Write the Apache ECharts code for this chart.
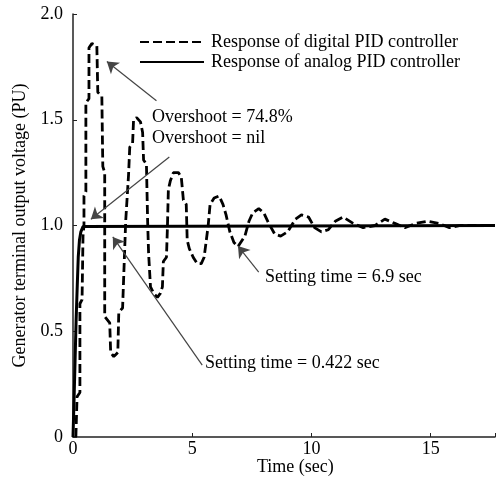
<!DOCTYPE html>
<html>
<head>
<meta charset="utf-8">
<script src="https://cdn.jsdelivr.net/npm/echarts@6/dist/echarts.min.js"></script>
<style>html,body{margin:0;padding:0;background:#fff}#c{width:498px;height:485px}</style>
</head>
<body>
<div id="c"></div>
<script>
// ---- data ----
const seriesNames = ['Response of digital PID controller', 'Response of analog PID controller'];
const digitalT = [0.12,0.17,0.29,0.29,0.38,0.42,0.46,0.46,0.54,0.54,0.67,0.67,0.79,1.0,1.04,1.21,1.25,1.33,1.33,1.54,1.58,1.71,1.88,1.92,2.08,2.21,2.33,2.38,2.5,2.54,2.67,2.83,2.92,2.96,3.08,3.13,3.17,3.25,3.38,3.54,3.67,3.75,3.79,3.92,3.96,4.0,4.08,4.21,4.42,4.54,4.63,4.75,4.79,4.88,5.04,5.21,5.38,5.5,5.58,5.67,5.75,5.92,6.13,6.29,6.42,6.58,6.75,6.92,7.21,7.38,7.54,7.79,8.0,8.21,8.46,8.71,9.0,9.33,9.58,9.88,10.13,10.42,10.71,11.0,11.33,11.75,12.17,12.67,13.08,13.5,13.92,14.38,14.88,15.33,15.79,16.25,17.7];
const digitalV = [0,0.19,0.21,0.63,0.65,0.95,1.0,1.14,1.16,1.58,1.6,1.84,1.86,1.85,1.63,1.61,1.28,1.25,0.57,0.54,0.4,0.38,0.4,0.59,0.61,1.02,1.24,1.37,1.39,1.5,1.51,1.49,1.44,1.31,1.29,1.02,0.87,0.71,0.68,0.66,0.68,0.71,0.83,0.85,0.99,1.17,1.21,1.25,1.25,1.23,1.12,1.1,0.93,0.89,0.85,0.82,0.82,0.85,0.92,1.0,1.1,1.13,1.14,1.1,1.05,0.97,0.92,0.9,0.95,1.02,1.06,1.08,1.06,1.01,0.96,0.95,0.97,1.03,1.05,1.04,0.99,0.97,0.98,1.02,1.04,1.01,0.99,1.0,1.03,1.01,0.99,1.01,1.02,1.01,0.99,1.0,1.0];
const analogT = [0,0.05,0.1,0.13,0.18,0.22,0.27,0.33,0.42,0.5,17.7];
const analogV = [0,0.2,0.42,0.55,0.72,0.85,0.93,0.97,0.995,1.0,1.0];
const xTicks = [0, 5, 10, 15];
const yTickLabels = {0:'0', 0.5:'0.5', 1:'1.0', 1.5:'1.5', 2:'2.0'};
const annotations = [
  {text:'Overshoot = 74.8%', from:[3.5,1.59], to:[1.42,1.775]},
  {text:'Overshoot = nil', from:[4.04,1.324], to:[0.75,1.03]},
  {text:'Setting time = 6.9 sec', from:[7.79,0.78], to:[6.92,0.903]},
  {text:'Setting time = 0.422 sec', from:[5.42,0.34], to:[1.67,0.946]}
];
const annotationTextPos = [[152,118],[152,139],[265,278],[205,364]];

const FONT = 'Liberation Serif';
const FS = 18;
const digital = digitalT.map((t,i)=>[t,digitalV[i]]);
const analog = analogT.map((t,i)=>[t,analogV[i]]);

const chart = echarts.init(document.getElementById('c'), null, {renderer:'canvas'});
chart.setOption({
  animation:false,
  backgroundColor:'#fff',
  textStyle:{fontFamily:FONT, color:'#000'},
  grid:{left:73, right:0, top:14, bottom:48, containLabel:false},
  legend:{
    orient:'vertical', left:139, top:33, padding:0, itemWidth:64, itemHeight:2, itemGap:2,
    itemStyle:{opacity:0},
    textStyle:{fontFamily:FONT, fontSize:FS, color:'#000', padding:[0,0,0,2]},
    data:seriesNames
  },
  xAxis:{
    type:'value', min:0, max:17.7, interval:5,
    axisLine:{lineStyle:{color:'#222', width:1.5}},
    axisTick:{inside:true, length:4, lineStyle:{color:'#222'}},
    axisLabel:{fontFamily:FONT, fontSize:FS, color:'#000', margin:3,
      formatter:v=> xTicks.includes(v) ? String(v) : ''},
    splitLine:{show:false}
  },
  yAxis:{
    type:'value', min:0, max:2, interval:0.5,
    name:'Generator terminal output voltage (PU)', nameLocation:'middle', nameGap:44,
    nameTextStyle:{fontFamily:FONT, fontSize:FS, color:'#000'},
    axisLine:{show:true, lineStyle:{color:'#222', width:1.5}},
    axisTick:{show:true, inside:true, length:4, lineStyle:{color:'#222'}},
    axisLabel:{fontFamily:FONT, fontSize:FS, color:'#000', margin:10, padding:[0,0,8,0],
      formatter:v=> yTickLabels[v] !== undefined ? yTickLabels[v] : ''},
    splitLine:{show:false}
  },
  graphic:[
    {type:'text', left:257, top:458, style:{text:'Time (sec)', font:FS+'px "Liberation Serif"', fill:'#000'}}
  ].concat(annotations.map((a,i)=>({
    type:'text', left:annotationTextPos[i][0], top:annotationTextPos[i][1]-10,
    style:{text:a.text, font:FS+'px "Liberation Serif"', fill:'#000'}
  }))),
  series:[
    {
      name:seriesNames[0], type:'line', data:digital, showSymbol:false, symbol:'none',
      lineStyle:{color:'#000', width:2.8, type:[9,4]}, itemStyle:{color:'#000'}, z:3
    },
    {
      name:seriesNames[1], type:'line', data:analog, showSymbol:false, symbol:'none',
      lineStyle:{color:'#000', width:3, type:'solid'}, itemStyle:{color:'#000'}, z:2,
      markLine:{
        silent:true, symbol:['none','arrow'], symbolSize:11,
        lineStyle:{color:'#444', width:1.2, type:'solid'}, label:{show:false},
        itemStyle:{color:'#111'},
        data: annotations.map(a=>[{coord:a.from, symbol:'none'},{coord:a.to, symbol:'arrow', symbolSize:11}])
      }
    }
  ]
});
</script>
</body>
</html>
